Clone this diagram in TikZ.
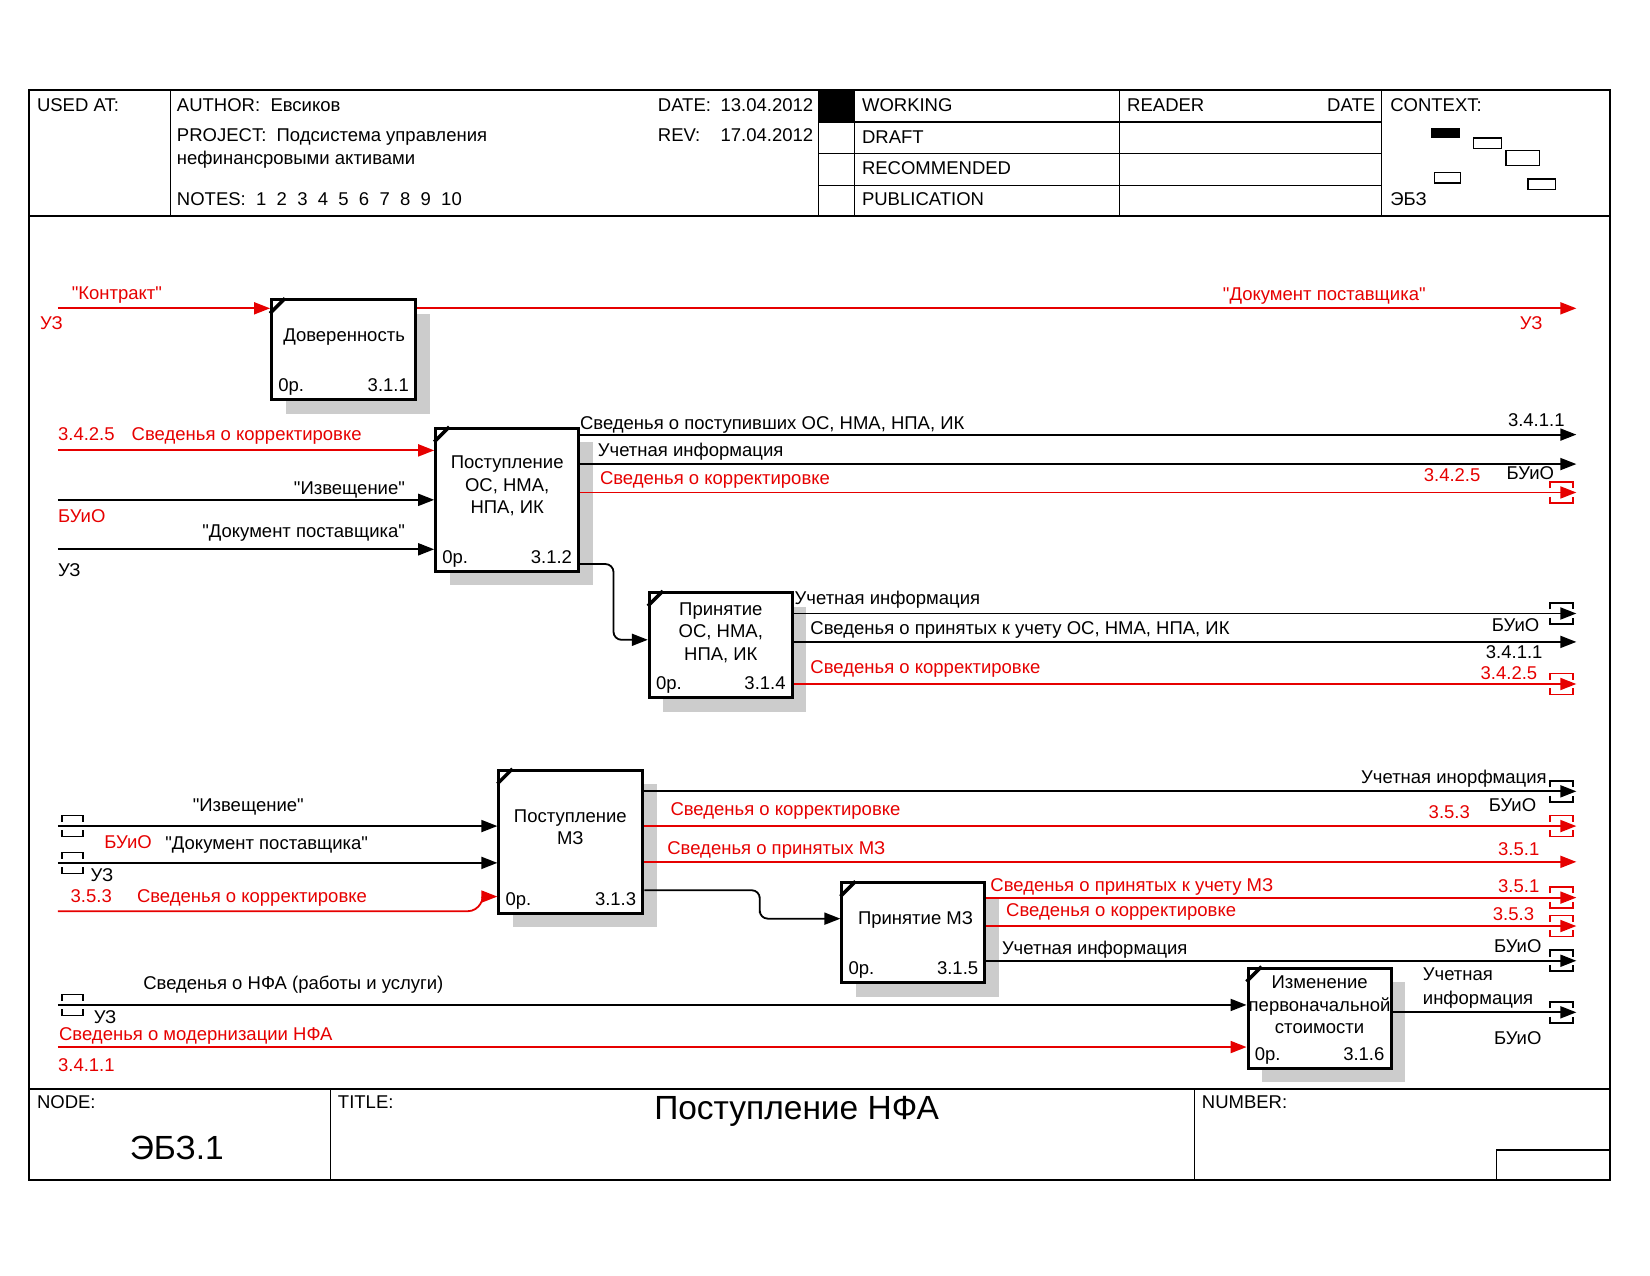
\documentclass[tikz,border=0pt]{standalone}
\usepackage{fontspec}
\newfontfamily\idfont{Liberation Sans}
\usepackage{tikz}
\usetikzlibrary{arrows.meta, shadows}

\definecolor{ired}{RGB}{230,0,0}

\tikzset{
    fn/.style={draw, line width=3pt, fill=white, inner sep=0pt,
        general shadow={fill=black!20, shadow xshift=14pt, shadow yshift=-14pt}},
    fntext/.style={align=center, inner sep=0pt, font=\idfont\fontsize{18.5}{22.6}\selectfont},
    tx/.style={inner sep=0pt, font=\idfont\fontsize{18.5}{22}\selectfont},
    hd/.style={tx, anchor=base west},
    arr/.style={line width=1.8pt, -{Triangle[length=16pt, width=12pt]}},
    tun/.style={line width=1.6pt},
}

\begin{document}
\begin{tikzpicture}[x=1.0523pt, y=-1.0523pt]
        \useasboundingbox (0,0) rectangle (1568,1212);
        % рамка бланка
        \draw[line width=2pt] (28,86) rectangle (1530,1121);
        \draw[line width=2pt] (28,205) -- (1530,205) (28,1035) -- (1530,1035);
        \foreach \x in {162,778,812,1064,1313}
            \draw[line width=1.4pt] (\x,86) -- (\x,205);
        \foreach \y in {116,146,176}
            \draw[line width=1.4pt] (778,\y) -- (1313,\y);
        \fill (778,86) rectangle (812,116);
        \foreach \x in {314,1135}
            \draw[line width=1.4pt] (\x,1035) -- (\x,1121);
        \draw[line width=1.4pt] (1422,1121) -- (1422,1093) -- (1530,1093);
        % контекст
        \fill (1360,122) rectangle (1387,131);
        \draw[line width=1.4pt] (1400,131) rectangle (1427,141);
        \draw[line width=1.4pt] (1431,143) rectangle (1463,157);
        \draw[line width=1.4pt] (1363,164) rectangle (1388,174);
        \draw[line width=1.4pt] (1452,170) rectangle (1478,180);
        % шапка
        \node[hd] (usedat) at (35,106) {USED AT:};
        \node[hd] (author) at (168,106) {AUTHOR:\ \ Евсиков};
        \node[hd] (date) at (625,106) {DATE:};
        \node[tx, anchor=base east] (dateval) at (773,106) {13.04.2012};
        \node[hd] (project) at (168,134) {PROJECT:\ \ Подсистема управления};
        \node[hd] (project2) at (168,156) {нефинансровыми активами};
        \node[hd] (rev) at (625,134) {REV:};
        \node[tx, anchor=base east] (revval) at (773,134) {17.04.2012};
        \node[hd] (notes) at (168,195) {NOTES:\ \ 1\ \ 2\ \ 3\ \ 4\ \ 5\ \ 6\ \ 7\ \ 8\ \ 9\ \ 10};
        \node[hd] (working) at (819,106) {WORKING};
        \node[hd] (draft) at (819,136) {DRAFT};
        \node[hd] (recom) at (819,166) {RECOMMENDED};
        \node[hd] (public) at (819,195) {PUBLICATION};
        \node[hd] (reader) at (1071,106) {READER};
        \node[tx, anchor=base east] (rdate) at (1307,106) {DATE};
        \node[hd] (context) at (1321,106) {CONTEXT:};
        \node[hd] (ctxnode) at (1321,195) {ЭБЗ};
        % подвал
        \node[hd] (nodelbl) at (35,1053) {NODE:};
        \node[hd] (titlelbl) at (321,1053) {TITLE:};
        \node[hd] (numlbl) at (1142,1053) {NUMBER:};
        \node[tx, font=\idfont\fontsize{33.5}{38}\selectfont] (title) at (757,1056) {Поступление НФА};
        \node[tx, font=\idfont\fontsize{33.5}{38}\selectfont] (nodeid) at (168,1091) {ЭБЗ.1};
        % блоки
        \node[fn, minimum width=144pt, minimum height=100pt] (b311) at (326.5,332.5) {};
        \node[fn, minimum width=143pt, minimum height=143pt] (b312) at (482,475) {};
        \node[fn, minimum width=143pt, minimum height=105pt] (b314) at (685,613) {};
        \node[fn, minimum width=144pt, minimum height=143pt] (b313) at (542.5,800) {};
        \node[fn, minimum width=143pt, minimum height=100pt] (b315) at (868,886.5) {};
        \node[fn, minimum width=143pt, minimum height=100pt] (b316) at (1254,967.5) {};
        \node[fntext] (t311) at (327,320) {Доверенность};
        \node[fntext] (t312) at (482,462) {Поступление\\ОС, НМА,\\НПА, ИК};
        \node[fntext] (t314) at (685,601) {Принятие\\ОС, НМА,\\НПА, ИК};
        \node[fntext] (t313) at (542,786) {Поступление\\МЗ};
        \node[fntext] (t315) at (870,874) {Принятие МЗ};
        \node[fntext] (t316) at (1254,955) {Изменение\\первоначальной\\стоимости};
        \foreach \b/\n in {b311/3.1.1, b312/3.1.2, b313/3.1.3, b314/3.1.4, b315/3.1.5, b316/3.1.6} {
            \draw[line width=3.5pt] ([yshift=-15pt]\b.north west) -- ([xshift=15pt]\b.north west);
            \node[tx, anchor=base west] (o\b) at ([xshift=8pt, yshift=9.5pt]\b.south west) {0р.};
            \node[tx, anchor=base east] (n\b) at ([xshift=-8pt, yshift=9.5pt]\b.south east) {\n};
        }
        % входы слева
        \foreach \y/\c/\b in {293/ired/b311, 428/ired/b312, 475/black/b312, 522/black/b312,
                              785/black/b313, 820/black/b313, 955/black/b316, 995/ired/b316} {
            \coordinate (l\y) at (55,\y);
            \draw[arr, \c] (l\y) -- (l\y -| \b.west);
        }
        % выходы справа
        \foreach \y/\c/\b in {293/ired/b311, 413/black/b312, 441/black/b312, 468/ired/b312,
                              583/black/b314, 610/black/b314, 650/ired/b314, 752/black/b313,
                              785/ired/b313, 819/ired/b313, 853/ired/b315, 880/ired/b315,
                              913/black/b315, 962/black/b316} {
            \coordinate (r\y) at (1498,\y);
            \draw[arr, \c] (r\y -| \b.east) -- (r\y);
        }
        % связи между блоками
        \draw[arr, rounded corners=8pt] (b312.east |- 0,536) -| (583,590) |- (b314.west |- 0,608);
        \draw[arr, rounded corners=8pt] (b313.east |- 0,846) -| (722,860) |- (b315.west |- 0,873);
        \coordinate (l866) at (55,866);
        \draw[arr, ired] (l866) -- (444,866) to[out=0, in=180] (b313.west |- 0,852);
        % туннели
        \foreach \y/\c in {468/ired, 583/black, 650/ired, 752/black, 785/ired, 853/ired,
                           880/ired, 913/black, 962/black}
            \draw[tun, \c] (1473,\y-4) -- (1473,\y-10) -- (1495,\y-10) -- (1495,\y-4)
                           (1473,\y+4) -- (1473,\y+10) -- (1495,\y+10) -- (1495,\y+4);
        \foreach \y in {785,820,955}
            \draw[tun] (59,\y-4) -- (59,\y-10) -- (79,\y-10) -- (79,\y-4)
                       (59,\y+4) -- (59,\y+10) -- (79,\y+10) -- (79,\y+4);
        % подписи стрелок
        \node[hd, ired] (a1) at (68,285) {"Контракт"};
        \node[hd, ired] (a2) at (38,313) {УЗ};
        \node[hd, ired] (a3) at (1162,286) {"Документ поставщика"};
        \node[tx, ired, anchor=base east] (a4) at (1466,313) {УЗ};
        \node[hd, ired] (a5) at (55,419) {3.4.2.5};
        \node[hd, ired] (a6) at (125,419) {Сведенья о корректировке};
        \node[tx, anchor=base east] (a7) at (385,470) {"Извещение"};
        \node[hd, ired] (a8) at (55,497) {БУиО};
        \node[tx, anchor=base east] (a9) at (385,511) {"Документ поставщика"};
        \node[hd] (a10) at (55,548) {УЗ};
        \node[hd] (a11) at (551,408) {Сведенья о поступивших ОС, НМА, НПА, ИК};
        \node[tx, anchor=base east] (a12) at (1487,405) {3.4.1.1};
        \node[hd] (a13) at (568,434) {Учетная информация};
        \node[tx, anchor=base east] (a14) at (1477,456) {БУиО};
        \node[hd, ired] (a15) at (570,460) {Сведенья о корректировке};
        \node[tx, ired, anchor=base east] (a16) at (1407,458) {3.4.2.5};
        \node[hd] (a17) at (755,574) {Учетная информация};
        \node[tx, anchor=base east] (a18) at (1463,600) {БУиО};
        \node[hd] (a19) at (770,603) {Сведенья о принятых к учету ОС, НМА, НПА, ИК};
        \node[tx, anchor=base east] (a20) at (1466,626) {3.4.1.1};
        \node[hd, ired] (a21) at (770,640) {Сведенья о корректировке};
        \node[tx, ired, anchor=base east] (a22) at (1461,646) {3.4.2.5};
        \node[hd] (a23) at (183,771) {"Извещение"};
        \node[hd, ired] (a24) at (99,806) {БУиО};
        \node[hd] (a25) at (157,807) {"Документ поставщика"};
        \node[hd] (a26) at (86,838) {УЗ};
        \node[hd, ired] (a27) at (67,858) {3.5.3};
        \node[hd, ired] (a28) at (130,858) {Сведенья о корректировке};
        \node[tx, anchor=base east] (a29) at (1470,745) {Учетная инорфмация};
        \node[tx, anchor=base east] (a30) at (1460,771) {БУиО};
        \node[hd, ired] (a31) at (637,775) {Сведенья о корректировке};
        \node[tx, ired, anchor=base east] (a32) at (1397,778) {3.5.3};
        \node[hd, ired] (a33) at (634,812) {Сведенья о принятых МЗ};
        \node[tx, ired, anchor=base east] (a34) at (1463,813) {3.5.1};
        \node[hd, ired] (a35) at (941,847) {Сведенья о принятых к учету МЗ};
        \node[tx, ired, anchor=base east] (a36) at (1463,848) {3.5.1};
        \node[hd, ired] (a37) at (956,871) {Сведенья о корректировке};
        \node[tx, ired, anchor=base east] (a38) at (1458,875) {3.5.3};
        \node[hd] (a39) at (952,907) {Учетная информация};
        \node[tx, anchor=base east] (a40) at (1465,905) {БУиО};
        \node[hd] (a41) at (136,940) {Сведенья о НФА (работы и услуги)};
        \node[hd] (a42) at (89,973) {УЗ};
        \node[hd, ired] (a43) at (56,989) {Сведенья о модернизации НФА};
        \node[hd, ired] (a44) at (55,1018) {3.4.1.1};
        \node[hd] (a45) at (1352,932) {Учетная};
        \node[hd] (a46) at (1352,955) {информация};
        \node[tx, anchor=base east] (a47) at (1465,993) {БУиО};
\end{tikzpicture}
\end{document}
